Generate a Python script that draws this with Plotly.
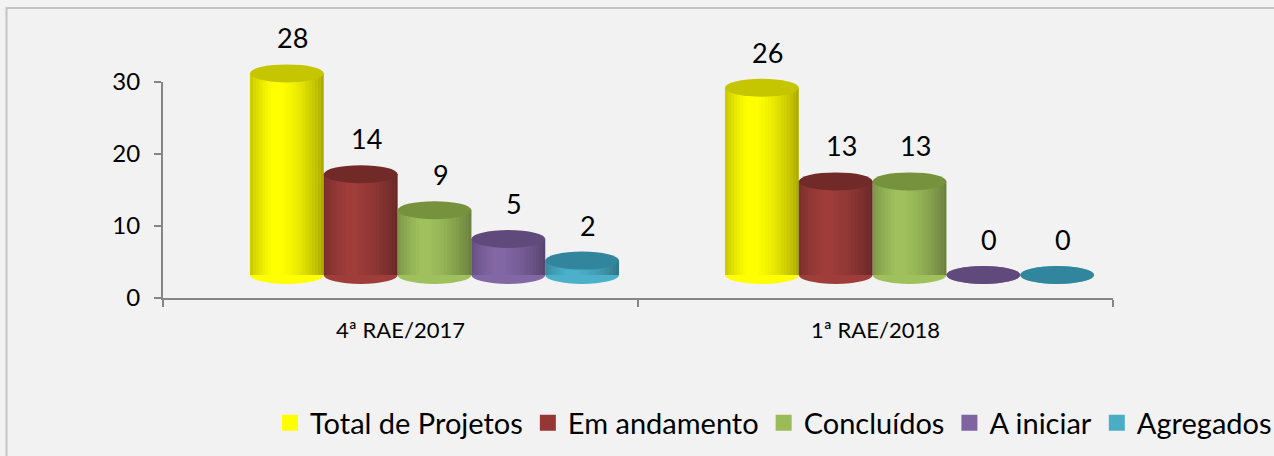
import plotly.graph_objects as go

# ---- data ----
categories = ["4ª RAE/2017", "1ª RAE/2018"]
series_names = ["Total de Projetos", "Em andamento", "Concluídos", "A iniciar", "Agregados"]
total_projetos = [28, 26]
em_andamento = [14, 13]
concluidos = [9, 13]
a_iniciar = [5, 0]
agregados = [2, 0]
y_ticks = [0, 10, 20, 30]

series_values = [total_projetos, em_andamento, concluidos, a_iniciar, agregados]
body_colors = ["#FFFF00", "#9E3D3A", "#9FC05C", "#8267A5", "#4BB0CA"]
cap_colors = ["#C6C600", "#722A29", "#76923C", "#604A7B", "#31859C"]
legend_colors = ["#FFFF00", "#953735", "#9BBB59", "#8064A2", "#4BACC6"]

W, H = 1274, 456
FONT = "Lato"

# pixel geometry of the reference
ax_l, ax_r = 163, 1113          # category axis extent
ax_zero, ax_top = 298, 82       # y=0 and y=30
px_per_unit = (ax_zero - ax_top) / 30.0
dx3d, dy3d = 34, 23             # 3D offset of the bars
bar_zero = ax_zero - dy3d
bar_bottom_px = 302
bargap = 0.223
n_series = len(series_names)
bw = (1 - bargap) / n_series
cap_half = 9 / px_per_unit

fig = go.Figure()

x_num = list(range(len(categories)))

# bodies of the cylinders
for j, name in enumerate(series_names):
    fig.add_trace(go.Bar(
        x=x_num, y=series_values[j], name=name,
        marker=dict(color=body_colors[j], line=dict(width=0)),
        xaxis="x2", yaxis="y2", showlegend=False, hoverinfo="skip",
    ))

# legend entries
for j, name in enumerate(series_names):
    fig.add_trace(go.Scatter(
        x=[None], y=[None], mode="markers", name=name,
        marker=dict(symbol="square", size=18, color=legend_colors[j]),
        xaxis="x2", yaxis="y2", showlegend=True,
    ))

# invisible trace to create the main category axis
fig.add_trace(go.Scatter(x=categories, y=[None, None], mode="markers",
                         showlegend=False, xaxis="x", yaxis="y", hoverinfo="skip"))

shapes = []
annotations = []
# background gradient (light top -> lighter bottom)
nb = 10
for k in range(nb):
    shapes.append(dict(type="rect", xref="paper", yref="paper",
                       x0=0, x1=1, y0=0, y1=(k + 1) / nb,
                       fillcolor="rgba(255,255,255,0.07)", line=dict(width=0), layer="below"))
# chart border
shapes.append(dict(type="rect", xref="paper", yref="paper",
                   x0=6.5 / W, x1=1.02, y0=-0.05, y1=(H - 8) / H,
                   fillcolor="rgba(0,0,0,0)", line=dict(color="#C4C4C4", width=2), layer="below"))

# smooth cylinder shading profile (darkness across the bar width)
n_strips = 24


def darkness(t):
    # lighter at ~35% of the width, darker towards both edges (right more)
    if t < 0.35:
        d = (0.35 - t) / 0.35
        return 0.22 * d ** 1.6
    d = (t - 0.35) / 0.65
    return 0.34 * d ** 1.8


for j in range(n_series):
    for i, v in enumerate(series_values[j]):
        xc = i + (j - (n_series - 1) / 2) * bw
        x0, x1 = xc - bw / 2, xc + bw / 2
        # rounded bottom
        shapes.append(dict(type="circle", xref="x2", yref="y2",
                           x0=x0, x1=x1, y0=-cap_half, y1=cap_half,
                           fillcolor=body_colors[j], line=dict(width=0), layer="below"))
        # shading of the body
        if v > 0:
            for s in range(n_strips):
                t = (s + 0.5) / n_strips
                a = darkness(t)
                if a < 0.01:
                    continue
                shapes.append(dict(type="rect", xref="x2", yref="y2",
                                   x0=x0 + s / n_strips * bw, x1=x0 + (s + 1) / n_strips * bw,
                                   y0=0, y1=v,
                                   fillcolor="rgba(0,0,0,%.3f)" % a, line=dict(width=0),
                                   layer="above"))
        # top cap
        shapes.append(dict(type="circle", xref="x2", yref="y2",
                           x0=x0, x1=x1, y0=v - cap_half, y1=v + cap_half,
                           fillcolor=cap_colors[j], line=dict(width=0), layer="above"))
        annotations.append(dict(x=xc, y=v, xref="x2", yref="y2", text=str(v),
                                showarrow=False, yanchor="bottom", yshift=17, xshift=6,
                                font=dict(family=FONT, size=27, color="#000000")))

fig.update_layout(
    width=W, height=H,
    margin=dict(l=0, r=0, t=0, b=0, autoexpand=False),
    paper_bgcolor="#F1F1F1",
    plot_bgcolor="rgba(0,0,0,0)",
    barmode="group", bargap=bargap, bargroupgap=0,
    font=dict(family=FONT, color="#000000"),
    xaxis=dict(
        domain=[ax_l / W, ax_r / W], type="category",
        range=[-0.5, len(categories) - 0.5], automargin=False,
        showgrid=False, zeroline=False, showline=True, linecolor="#868686", linewidth=2,
        ticks="outside", tickson="boundaries", ticklen=7, tickcolor="#868686", tickwidth=2,
        tickfont=dict(family=FONT, size=22), ticklabelstandoff=12,
        anchor="y", fixedrange=True,
    ),
    yaxis=dict(
        domain=[(H - ax_zero) / H, (H - ax_top) / H], range=[0, 30],
        tickvals=y_ticks, showgrid=False, zeroline=False, automargin=False,
        showline=True, linecolor="#868686", linewidth=2,
        ticks="outside", ticklen=7, tickcolor="#868686", tickwidth=2,
        tickfont=dict(family=FONT, size=24), ticklabelstandoff=9,
        anchor="x", fixedrange=True,
    ),
    xaxis2=dict(
        domain=[(ax_l + dx3d) / W, (ax_r + dx3d) / W], range=[-0.5, len(categories) - 0.5],
        visible=False, anchor="y2", fixedrange=True, automargin=False,
    ),
    yaxis2=dict(
        domain=[(H - bar_bottom_px) / H, 1.0],
        range=[-(bar_bottom_px - bar_zero) / px_per_unit, bar_zero / px_per_unit],
        visible=False, anchor="x2", fixedrange=True, automargin=False,
    ),
    legend=dict(
        orientation="h", x=270 / W, xanchor="left", y=(H - 423) / H, yanchor="middle",
        font=dict(family=FONT, size=29), bgcolor="rgba(0,0,0,0)",
        itemsizing="trace", itemclick=False, itemdoubleclick=False,
    ),
    shapes=shapes,
    annotations=annotations,
    showlegend=True,
)

fig.write_html(
    "out.html",
    config={"displayModeBar": False},
    post_script="document.body.style.margin='0';document.body.style.overflow='hidden';",
)
